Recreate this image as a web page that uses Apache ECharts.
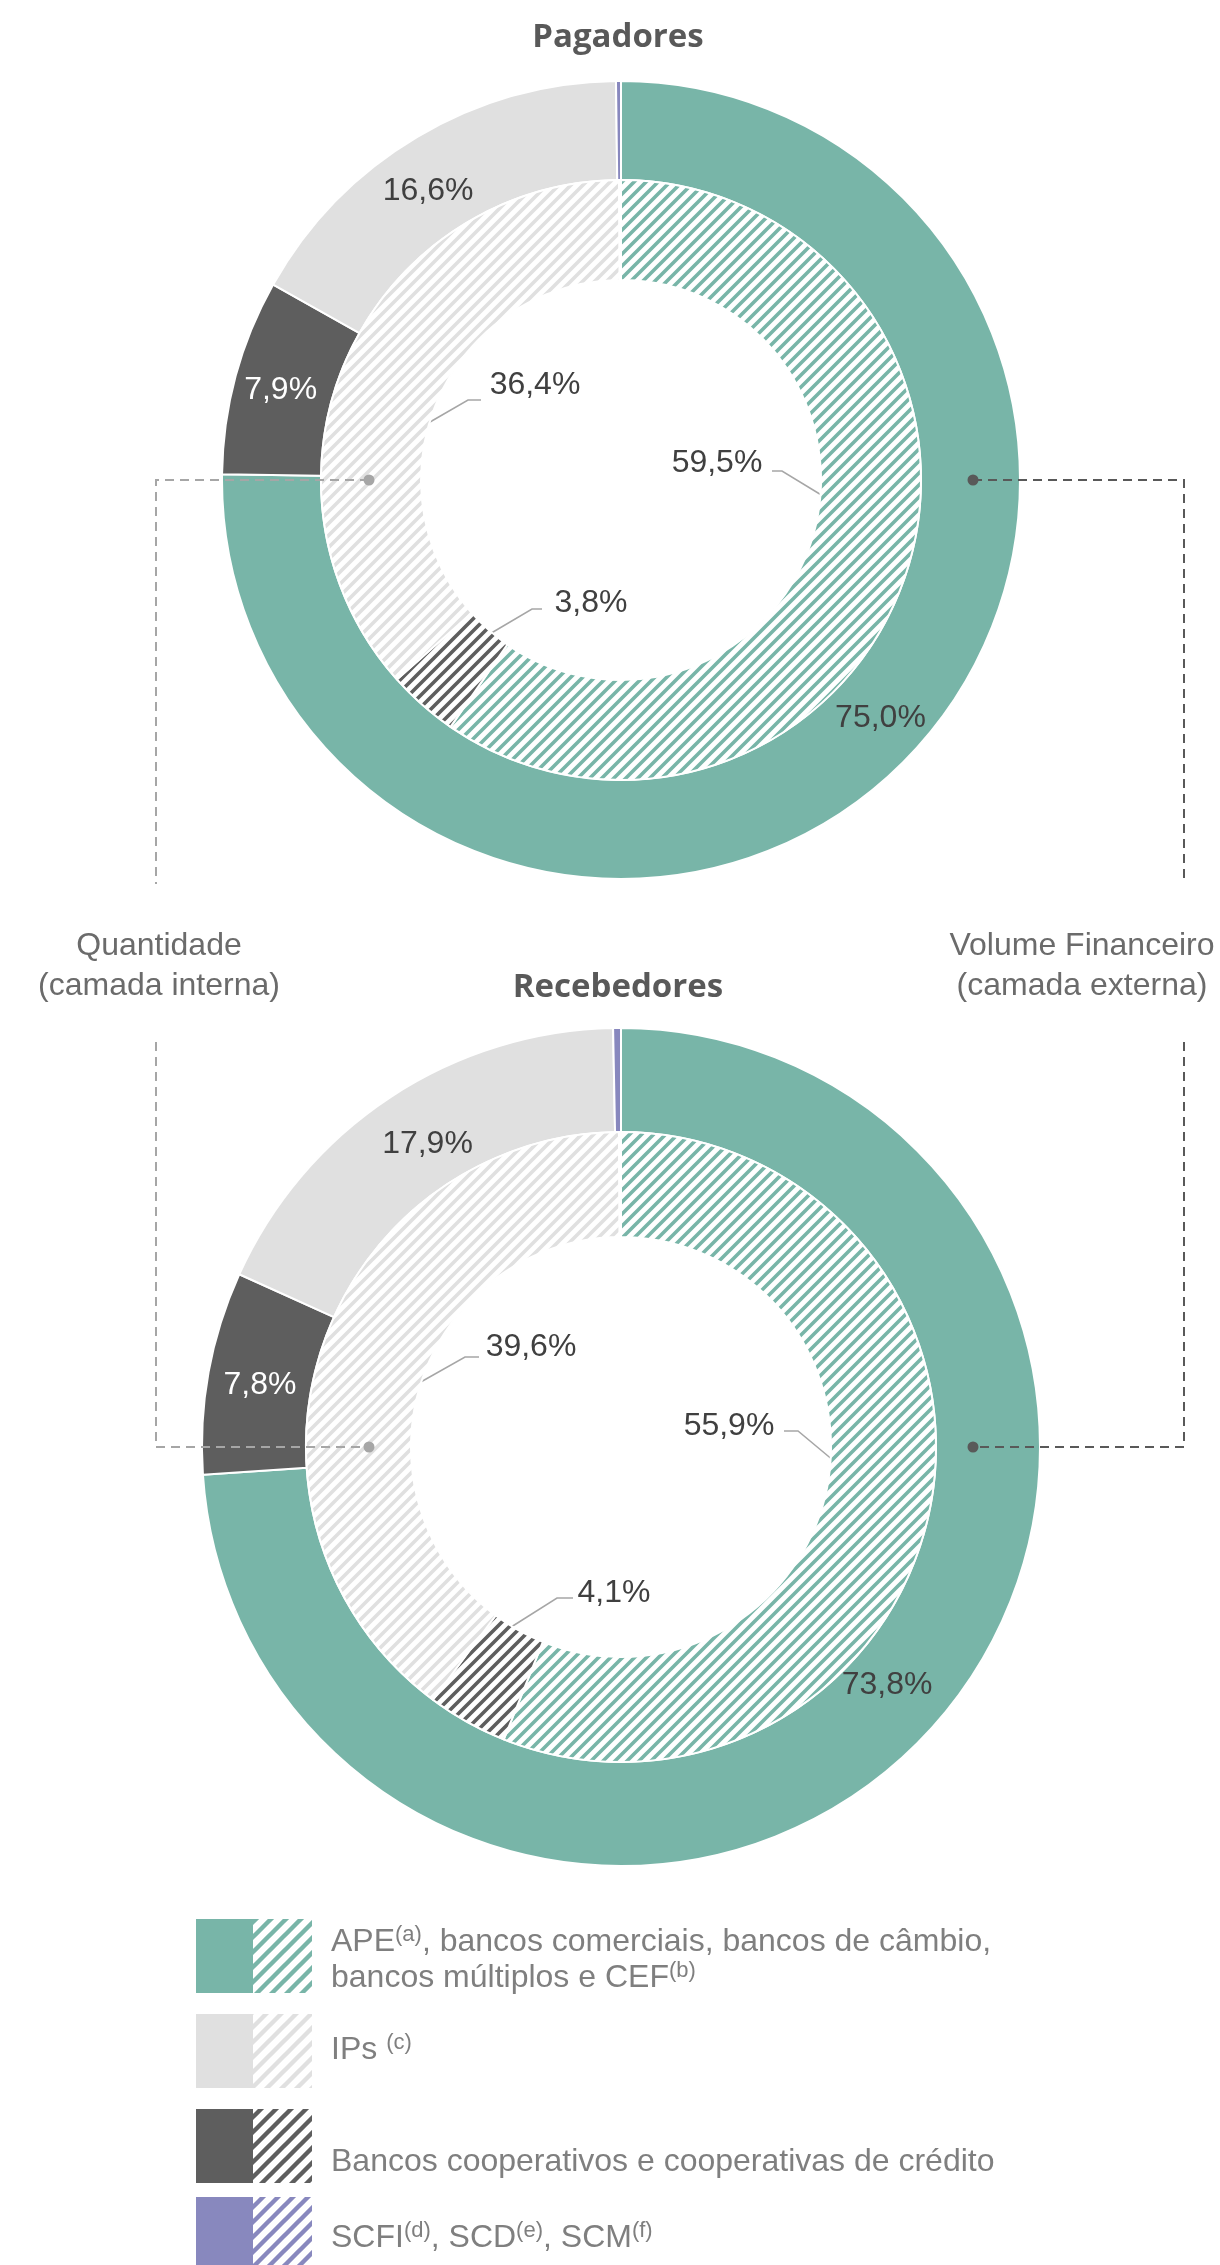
<!DOCTYPE html>
<html>
<head>
<meta charset="utf-8">
<script src="https://cdn.jsdelivr.net/npm/echarts@6/dist/echarts.min.js"></script>
<style>
  html, body { margin: 0; padding: 0; background: #fff; }
  #chart { width: 1220px; height: 2265px; }
</style>
</head>
<body>
<div id="chart"></div>
<script>
// Segment order (clockwise from 12 o'clock)
const categories = [
  'APE, bancos comerciais, bancos de câmbio, bancos múltiplos e CEF',
  'Bancos cooperativos e cooperativas de crédito',
  'IPs',
  'SCFI, SCD, SCM'
];
// Shares in % — outer ring: volume financeiro, inner ring: quantidade
const pagadoresVolume = [75.0, 7.9, 16.6, 0.2];
const pagadoresQuantidade = [59.5, 3.8, 36.4, 0.1];
const recebedoresVolume = [73.8, 7.8, 17.9, 0.3];
const recebedoresQuantidade = [55.9, 4.1, 39.6, 0.1];
const chartTitles = ['Pagadores', 'Recebedores'];
const layerNames = ['Quantidade\n(camada interna)', 'Volume Financeiro\n(camada externa)'];
const legendLabels = [
  'APE{s|(a)}, bancos comerciais, bancos de câmbio,\nbancos múltiplos e CEF{s|(b)}',
  'IPs {s|(c)}',
  'Bancos cooperativos e cooperativas de crédito',
  'SCFI{s|(d)}, SCD{s|(e)}, SCM{s|(f)}'
];
const legendOrder = [0, 2, 1, 3];

// ---- styling ----
const palette = ['#78b5a8', '#5e5e5e', '#e0e0e0', '#8888be'];
const outerLabelColors = ['#404040', '#ffffff', '#404040', '#404040'];
const FONT = '"Liberation Sans", Arial, sans-serif';

function hatchCanvas(color, tile, width) {
  const c = document.createElement('canvas');
  c.width = tile; c.height = tile;
  const ctx = c.getContext('2d');
  ctx.fillStyle = '#ffffff';
  ctx.fillRect(0, 0, tile, tile);
  ctx.strokeStyle = color;
  ctx.lineWidth = width;
  ctx.beginPath();
  for (const k of [-1, 0, 1]) {
    ctx.moveTo(k * tile - 2, tile + 2);
    ctx.lineTo(k * tile + tile + 2, -2);
  }
  ctx.stroke();
  return c;
}
const ringHatch = palette.map(c => ({ image: hatchCanvas(c, 12, 3.6), repeat: 'repeat' }));
const legendHatch = palette.map(c => ({ image: hatchCanvas(c, 15, 4.4), repeat: 'repeat' }));

const fmt = v => v.toFixed(1).replace('.', ',') + '%';

// ---- donut geometry ----
const donuts = [
  { center: [621, 480], radii: [200, 300, 399], titleY: 38,
    volume: pagadoresVolume, count: pagadoresQuantidade,
    // small nudges of the in-segment value labels
    outerNudge: [[12, -13], [0, 2], [-13, 14]],
    // inner label placement relative to the centre: label anchor + leader line
    innerLabels: [
      { label: [96, -17], line: [[202, 16], [161, -9], [151, -9]] },
      { label: [-30, 123], line: [[-133, 155], [-89, 129], [-79, 129]] },
      { label: [-86, -95], line: [[-191, -58], [-153, -80], [-140, -80]] }
    ] },
  { center: [621, 1447], radii: [210, 315, 419], titleY: 988,
    volume: recebedoresVolume, count: recebedoresQuantidade,
    outerNudge: [[-4, -15], [3, 4], [10, 6]],
    innerLabels: [
      { label: [108, -21], line: [[213, 14], [177, -16], [163, -16]] },
      { label: [-7, 146], line: [[-113, 182], [-64, 151], [-48, 151]] },
      { label: [-90, -100], line: [[-202, -64], [-156, -90], [-142, -90]] }
    ] }
];

const series = [];
donuts.forEach(d => {
  // outer ring: solid segments, value printed inside
  series.push({
    type: 'pie', center: d.center, radius: [d.radii[1], d.radii[2]],
    startAngle: 90, clockwise: true, avoidLabelOverlap: false,
    silent: true, animation: false, emphasis: { disabled: true },
    itemStyle: { borderColor: '#ffffff', borderWidth: 2 },
    label: { position: 'inside', fontSize: 32, fontFamily: FONT, formatter: p => fmt(p.value) },
    labelLine: { show: false },
    labelLayout: params => {
      const n = d.outerNudge[params.dataIndex];
      return n ? { dx: n[0], dy: n[1] } : {};
    },
    data: d.volume.map((v, i) => ({
      name: categories[i], value: v,
      itemStyle: { color: palette[i] },
      label: { show: i < 3, color: outerLabelColors[i] }
    }))
  });
  // inner ring: hatched segments, labels pulled into the hole
  series.push({
    type: 'pie', center: d.center, radius: [d.radii[0], d.radii[1]],
    startAngle: 90, clockwise: true, avoidLabelOverlap: false,
    silent: true, animation: false, emphasis: { disabled: true },
    itemStyle: { borderColor: '#ffffff', borderWidth: 2 },
    label: { position: 'outside', fontSize: 32, fontFamily: FONT, color: '#404040',
             formatter: p => fmt(p.value) },
    labelLine: { show: true, lineStyle: { color: '#a6a6a6', width: 1.5 } },
    labelLayout: params => {
      const p = d.innerLabels[params.dataIndex];
      if (!p) return {};
      const [cx, cy] = d.center;
      return {
        x: cx + p.label[0], y: cy + p.label[1],
        align: 'center', verticalAlign: 'middle',
        labelLinePoints: p.line.map(q => [cx + q[0], cy + q[1]])
      };
    },
    data: d.count.map((v, i) => ({
      name: categories[i], value: v,
      itemStyle: { color: ringHatch[i] },
      label: { show: i < 3 },
      labelLine: { show: i < 3 }
    }))
  });
});

// ---- annotations: titles, layer call-outs, legend ----
const graphics = [];
donuts.forEach((d, k) => {
  graphics.push({
    type: 'text', x: 618, y: d.titleY, z: 100,
    style: { text: chartTitles[k], font: 'bold 33px "Open Sans", sans-serif', fill: '#595959',
             align: 'center', verticalAlign: 'middle' }
  });
});

const dash = [9, 6];
const leftX = 156, rightX = 1184, dotL = 369, dotR = 973;
const yTop = donuts[0].center[1], yBot = donuts[1].center[1];
[
  { pts: [[dotL, yTop], [leftX, yTop], [leftX, 884]], c: '#a6a6a6' },
  { pts: [[leftX, 1042], [leftX, yBot], [dotL, yBot]], c: '#a6a6a6' },
  { pts: [[dotR, yTop], [rightX, yTop], [rightX, 884]], c: '#595959' },
  { pts: [[rightX, 1042], [rightX, yBot], [dotR, yBot]], c: '#595959' }
].forEach(l => graphics.push({
  type: 'polyline', z: 100, shape: { points: l.pts },
  style: { stroke: l.c, lineWidth: 2, lineDash: dash, fill: null }
}));
[[dotL, yTop, '#a6a6a6'], [dotL, yBot, '#a6a6a6'], [dotR, yTop, '#595959'], [dotR, yBot, '#595959']]
  .forEach(p => graphics.push({ type: 'circle', z: 101, shape: { cx: p[0], cy: p[1], r: 5.5 }, style: { fill: p[2] } }));

[[159, layerNames[0]], [1082, layerNames[1]]].forEach(t => graphics.push({
  type: 'text', x: t[0], y: 966, z: 100,
  style: { text: t[1], fontSize: 32, fontFamily: FONT, fill: '#6b6b6b', lineHeight: 40,
           align: 'center', verticalAlign: 'middle' }
}));

const legendRows = [
  { top: 1919, textY: 1960 },
  { top: 2014, textY: 2050 },
  { top: 2109, textY: 2162 },
  { top: 2197, textY: 2238 }
];
legendRows.forEach((row, r) => {
  const ci = legendOrder[r];
  graphics.push({ type: 'rect', z: 100, shape: { x: 196, y: row.top, width: 57, height: 74 },
                  style: { fill: palette[ci] } });
  graphics.push({ type: 'rect', z: 100, shape: { x: 253, y: row.top, width: 59, height: 74 },
                  style: { fill: legendHatch[ci] } });
  graphics.push({
    type: 'text', x: 331, y: row.textY, z: 100,
    style: {
      text: legendLabels[r], fontSize: 32, fontFamily: FONT, fill: '#7f7f7f', lineHeight: 36,
      align: 'left', verticalAlign: 'middle',
      rich: { s: { fontSize: 22, lineHeight: 36, verticalAlign: 'top', fill: '#7f7f7f', fontFamily: FONT, padding: [0, 0, 14, 0] } }
    }
  });
});

const chart = echarts.init(document.getElementById('chart'), null, { renderer: 'canvas' });
chart.setOption({
  backgroundColor: '#ffffff',
  animation: false,
  textStyle: { fontFamily: FONT },
  series: series,
  graphic: { elements: graphics }
});
</script>
</body>
</html>
